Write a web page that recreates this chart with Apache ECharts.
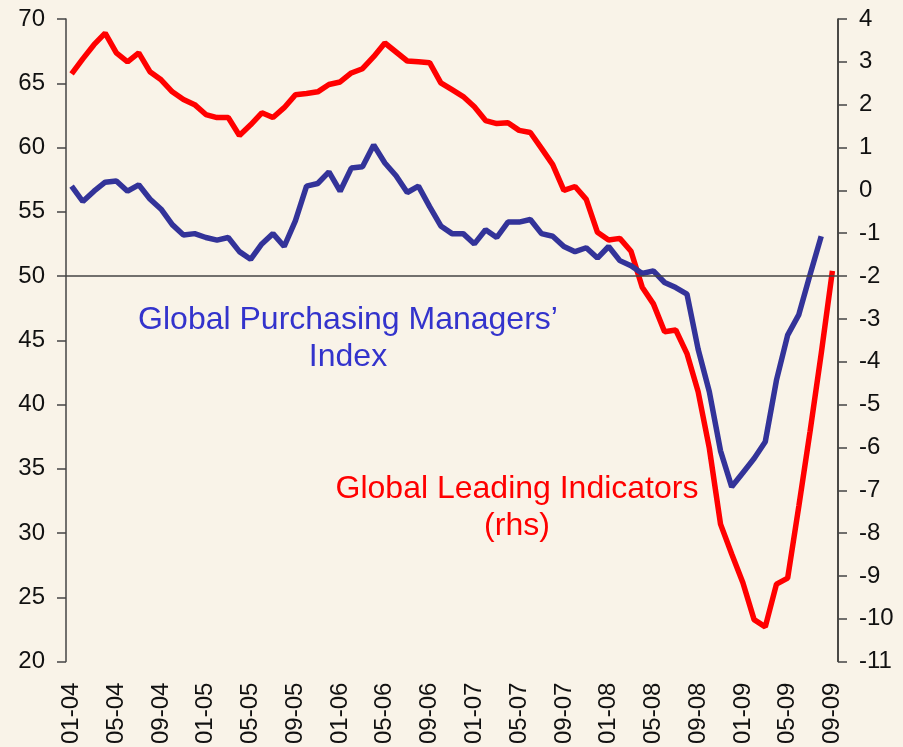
<!DOCTYPE html>
<html>
<head>
<meta charset="utf-8">
<script src="https://cdn.jsdelivr.net/npm/echarts@6/dist/echarts.min.js"></script>
<style>
  html, body { margin: 0; padding: 0; background: #f9f3e8; }
  #chart { width: 903px; height: 747px; }
</style>
</head>
<body>
<div id="chart"></div>
<script>
// monthly, 01-04 .. 09-09
const months = []
for (let y = 4; y <= 9; y++) {
  for (let m = 1; m <= 12; m++) {
    if (y === 9 && m > 9) break
    months.push(String(m).padStart(2, '0') + '-' + String(y).padStart(2, '0'))
  }
}

// Global PMI (lhs), ends 08-09
const pmi = [
  57.0, 55.8, 56.6, 57.3, 57.4, 56.6, 57.1, 56.0, 55.2, 54.0,
  53.2, 53.3, 53.0, 52.8, 53.0, 51.9, 51.3, 52.5, 53.3, 52.3,
  54.3, 57.0, 57.2, 58.1, 56.6, 58.4, 58.5, 60.2, 58.8, 57.8,
  56.5, 57.0, 55.4, 53.9, 53.3, 53.3, 52.5, 53.6, 53.0, 54.2,
  54.2, 54.4, 53.3, 53.1, 52.3, 51.9, 52.2, 51.4, 52.3, 51.2,
  50.8, 50.2, 50.4, 49.5, 49.1, 48.6, 44.3, 41.0, 36.4, 33.6,
  34.7, 35.8, 37.1, 41.9, 45.4, 47.0, 50.1, 53.1, null
]

// Global leading indicators (rhs)
const gli = [
  2.72, 3.07, 3.40, 3.67, 3.21, 3.00, 3.21, 2.77, 2.58, 2.30,
  2.12, 2.00, 1.77, 1.70, 1.70, 1.28, 1.53, 1.81, 1.70, 1.93,
  2.23, 2.26, 2.30, 2.47, 2.53, 2.74, 2.84, 3.12, 3.44, 3.23,
  3.02, 3.00, 2.98, 2.51, 2.35, 2.19, 1.95, 1.63, 1.56, 1.58,
  1.40, 1.35, 0.98, 0.60, 0.00, 0.09, -0.21, -0.98, -1.16, -1.12,
  -1.42, -2.26, -2.65, -3.30, -3.26, -3.81, -4.70, -6.02, -7.79, -8.49,
  -9.16, -10.02, -10.19, -9.19, -9.05, -7.37, -5.63, -3.81, -1.88
]

const chart = echarts.init(document.getElementById('chart'), null, { renderer: 'canvas' })

const axisFont = { color: '#111', fontSize: 24, fontFamily: 'Liberation Sans, Arial, sans-serif' }
const labelFont = 'Liberation Sans, Arial, sans-serif'

const option = {
  backgroundColor: '#f9f3e8',
  animation: false,
  grid: { left: 66, right: 65, top: 19, bottom: 83 },
  xAxis: {
    type: 'category',
    data: months,
    boundaryGap: true,
    axisLine: { show: false },
    axisTick: { show: false },
    axisLabel: { ...axisFont, rotate: 90, interval: 3, margin: 21 },
  },
  yAxis: [
    {
      type: 'value', min: 20, max: 70, interval: 5,
      axisLine: { show: true, lineStyle: { color: '#444', width: 1.5 } },
      axisTick: { show: true, length: 9, lineStyle: { color: '#444', width: 1.5 } },
      axisLabel: { ...axisFont, margin: 21 },
      splitLine: { show: false },
    },
    {
      type: 'value', min: -11, max: 4, interval: 1, position: 'right',
      axisLine: { show: true, lineStyle: { color: '#111', width: 1.5 } },
      axisTick: { show: true, length: 9, lineStyle: { color: '#444', width: 1.5 } },
      axisLabel: { ...axisFont, margin: 21 },
      splitLine: { show: false },
    },
  ],
  graphic: [
    { type: 'text', x: 348, y: 320, style: { text: 'Global Purchasing Managers’', fill: '#3333cc', font: '32px ' + labelFont, textAlign: 'center', textVerticalAlign: 'middle' } },
    { type: 'text', x: 348, y: 357, style: { text: 'Index', fill: '#3333cc', font: '32px ' + labelFont, textAlign: 'center', textVerticalAlign: 'middle' } },
    { type: 'text', x: 517, y: 489, style: { text: 'Global Leading Indicators', fill: '#ff0000', font: '32px ' + labelFont, textAlign: 'center', textVerticalAlign: 'middle' } },
    { type: 'text', x: 517, y: 526, style: { text: '(rhs)', fill: '#ff0000', font: '32px ' + labelFont, textAlign: 'center', textVerticalAlign: 'middle' } },
  ],
  series: [
    {
      name: 'Global Leading Indicators (rhs)',
      type: 'line',
      yAxisIndex: 1,
      data: gli,
      symbol: 'none',
      lineStyle: { color: '#ff0000', width: 5.5 },
      z: 3,
    },
    {
      name: 'Global Purchasing Managers’ Index',
      type: 'line',
      yAxisIndex: 0,
      data: pmi,
      symbol: 'none',
      lineStyle: { color: '#333399', width: 5.5 },
      z: 4,
      markLine: {
        silent: true,
        symbol: 'none',
        label: { show: false },
        lineStyle: { color: '#444', width: 1.5, type: 'solid' },
        data: [{ yAxis: 50 }],
      },
    },
  ],
}

chart.setOption(option)
</script>
</body>
</html>
